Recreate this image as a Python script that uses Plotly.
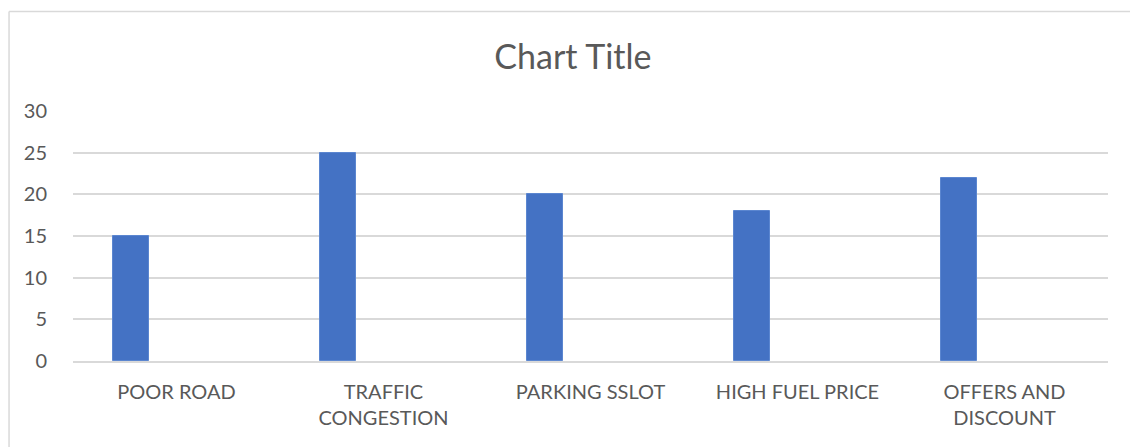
import plotly.graph_objects as go

categories = ["POOR ROAD", "TRAFFIC<br>CONGESTION", "PARKING SSLOT", "HIGH FUEL PRICE", "OFFERS AND<br>DISCOUNT"]
values = [15, 25, 20, 18, 22]
y_ticks = [0, 5, 10, 15, 20, 25, 30]

text_color = "#595959"
grid_color = "#D9D9D9"
font_family = "Lato, 'Open Sans', sans-serif"

fig = go.Figure()
fig.add_trace(go.Bar(
    x=categories,
    y=values,
    width=0.172,
    offset=-0.307,
    marker=dict(color="#4472C4", line=dict(color="#5B86D0", width=1)),
    showlegend=False,
))

# chart-area frame (left and top edges visible)
fig.add_shape(type="line", xref="paper", yref="paper", x0=-0.0618, x1=-0.0618, y0=-0.5, y1=1.398,
              line=dict(color=grid_color, width=1.5))
fig.add_shape(type="line", xref="paper", yref="paper", x0=-0.0618, x1=1.1, y0=1.398, y1=1.398,
              line=dict(color=grid_color, width=1.5))

fig.update_layout(
    width=1130, height=447,
    margin=dict(l=73, r=22, t=111, b=86),
    paper_bgcolor="white", plot_bgcolor="white",
    font=dict(family=font_family, color=text_color, size=20),
    title=dict(text="Chart Title", x=0.507, xanchor="center", xref="container",
               y=1 - 57 / 447, yanchor="middle", yref="container",
               font=dict(size=34, color=text_color, family=font_family)),
    bargap=0,
)
fig.update_xaxes(
    showgrid=False, showline=True, linecolor=grid_color, linewidth=1.5,
    ticks="outside", ticklen=12, tickcolor="rgba(0,0,0,0)",
    tickfont=dict(size=20, color=text_color),
)
fig.update_yaxes(
    range=[0, 30], tickvals=y_ticks, showgrid=True, gridcolor=grid_color, gridwidth=1.5,
    zeroline=False, showline=False,
    ticks="outside", ticklen=21, tickcolor="rgba(0,0,0,0)",
    tickfont=dict(size=20, color=text_color),
)

fig.write_html("out.html")
